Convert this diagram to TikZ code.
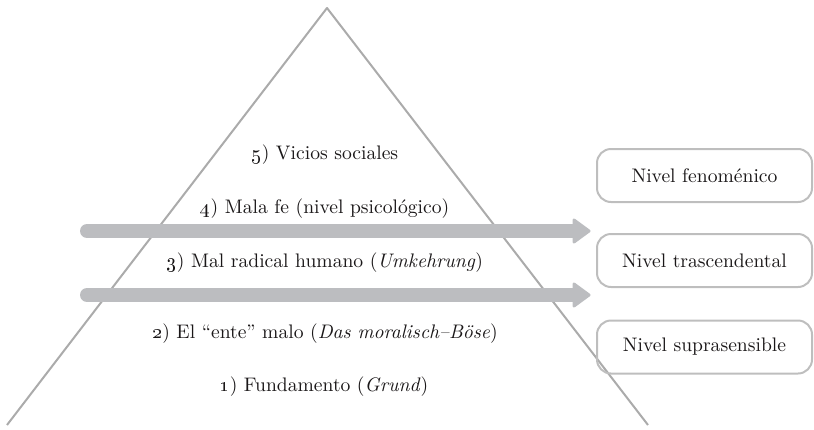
\documentclass[tikz,border=0pt]{standalone}
\usetikzlibrary{calc}
\definecolor{trigray}{HTML}{ABABAB}
\definecolor{bargray}{HTML}{BCBDC0}
\definecolor{boxgray}{HTML}{BEBEBE}
\definecolor{txt}{HTML}{1A1718}
\tikzset{
  tri/.style={draw=trigray, line width=1pt, line join=round},
  barline/.style={draw=bargray, line width=7pt, line cap=round},
  barhead/.style={fill=bargray, draw=bargray, line width=1.5pt, line join=round},
  lvlbox/.style={draw=boxgray, line width=1pt, rounded corners=7pt,
    minimum width=107.5pt, minimum height=26.5pt, inner sep=0pt,
    text=txt, font=\fontsize{9.8}{12}\selectfont},
  lbl/.style={text=txt, inner sep=0pt, font=\fontsize{9.8}{12}\selectfont},
}
\begin{document}
\begin{tikzpicture}[x=0.5pt, y=-0.5pt]
\useasboundingbox (0,0) rectangle (814,429);
% pyramid
\coordinate (apex) at (327,8);
\coordinate (bl) at (7,425);
\coordinate (br) at (648,425);
\draw[tri] (bl) -- (apex) -- (br);
% arrows
\coordinate (b1s) at (87,231);
\coordinate (b1m) at (576,231);
\coordinate (b1e) at (589,231);
\coordinate (b2s) at (87,295);
\coordinate (b2m) at (576,295);
\coordinate (b2e) at (589,295);
\draw[barline] (b1s) -- (b1m);
\draw[barline] (b2s) -- (b2m);
\filldraw[barhead] (b1e) -- ++(-15,-11) -- ++(0,22) -- cycle;
\filldraw[barhead] (b2e) -- ++(-15,-11) -- ++(0,22) -- cycle;
% pyramid labels
\node[lbl] (l5) at (325,155) {\oldstylenums{5}) Vicios sociales};
\node[lbl] (l4) at (325,209) {\oldstylenums{4}) Mala fe (nivel psicológico)};
\node[lbl] (l3) at (325,263) {\oldstylenums{3}) Mal radical humano (\textit{Umkehrung})};
\node[lbl] (l2) at (325,334) {\oldstylenums{2}) El “ente” malo (\textit{Das moralisch–Böse})};
\node[lbl] (l1) at (324,387) {\oldstylenums{1}) Fundamento (\textit{Grund})};
% level boxes
\node[lvlbox] (n1) at (704.5,175.5) {Nivel fenoménico};
\node[lvlbox] (n2) at (704.5,260.5) {Nivel trascendental};
\node[lvlbox] (n3) at (704.5,347) {Nivel suprasensible};
\end{tikzpicture}
\end{document}
